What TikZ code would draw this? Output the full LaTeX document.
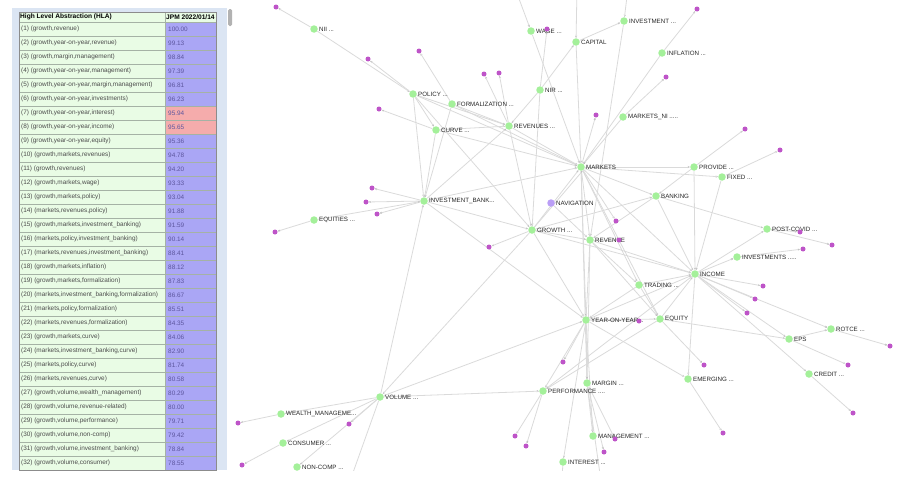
\documentclass[tikz,border=0pt]{standalone}
\usepackage{fontspec}
\usepackage{xcolor}
\usepackage{tikz}
\usetikzlibrary{arrows.meta,backgrounds}
\newfontfamily\arialfont{Liberation Sans}
\definecolor{panelblue}{RGB}{219,229,243}
\definecolor{cellgreen}{RGB}{233,252,229}
\definecolor{valblue}{RGB}{170,166,245}
\definecolor{valpink}{RGB}{245,172,172}
\definecolor{valtext}{RGB}{92,86,158}
\definecolor{gridgray}{RGB}{165,178,165}
\definecolor{hubgreen}{RGB}{164,240,154}
\definecolor{leafpurple}{RGB}{190,84,200}
\definecolor{navpurple}{RGB}{186,158,246}
\definecolor{linkgray}{RGB}{218,218,218}
\tikzset{
  hub/.style={circle,fill=hubgreen,inner sep=0pt,minimum size=7.5pt},
  leaf/.style={circle,fill=leafpurple,inner sep=0pt,minimum size=5pt},
  tag/.style={font=\arialfont\fontsize{6.2}{7}\selectfont,text=black!85,inner sep=1pt},
  link/.style={draw=linkgray,line width=0.8pt,-{Stealth[length=2.6pt,width=2.2pt]}},
  grid/.style={draw=gridgray,line width=0.5pt},
  cell/.style={anchor=west,inner sep=0pt,font=\arialfont\fontsize{6.4}{7}\selectfont,text=black!70},
  val/.style={cell,text=valtext},
  head/.style={anchor=west,inner sep=0pt,font=\arialfont\bfseries\fontsize{6.6}{7}\selectfont}
}

\begin{document}
\begin{tikzpicture}[x=1pt,y=-1pt]
  \useasboundingbox (0,0) rectangle (904,482);
  % table panel
  \fill[panelblue] (12,8) rectangle (227,470);
  \fill[black!30,rounded corners=1.5pt] (228,9) rectangle (232,26);
  \draw[grid,fill=cellgreen] (19,12) rectangle (165,22);
  \draw[grid,fill=cellgreen] (165,12) rectangle (216,22);
  \node[head] (hla) at (20,17) {High Level Abstraction (HLA)};
  \node[head] (jpm) at (166,17) {JPM 2022/01/14};
  \foreach \n/\t/\v/\c in {
    1/{(growth,revenue)}/100.00/valblue,
    2/{(growth,year-on-year,revenue)}/99.13/valblue,
    3/{(growth,margin,management)}/98.84/valblue,
    4/{(growth,year-on-year,management)}/97.39/valblue,
    5/{(growth,year-on-year,margin,management)}/96.81/valblue,
    6/{(growth,year-on-year,investments)}/96.23/valblue,
    7/{(growth,year-on-year,interest)}/95.94/valpink,
    8/{(growth,year-on-year,income)}/95.65/valpink,
    9/{(growth,year-on-year,equity)}/95.36/valblue,
    10/{(growth,markets,revenues)}/94.78/valblue,
    11/{(growth,revenues)}/94.20/valblue,
    12/{(growth,markets,wage)}/93.33/valblue,
    13/{(growth,markets,policy)}/93.04/valblue,
    14/{(markets,revenues,policy)}/91.88/valblue,
    15/{(growth,markets,investment\_banking)}/91.59/valblue,
    16/{(markets,policy,investment\_banking)}/90.14/valblue,
    17/{(markets,revenues,investment\_banking)}/88.41/valblue,
    18/{(growth,markets,inflation)}/88.12/valblue,
    19/{(growth,markets,formalization)}/87.83/valblue,
    20/{(markets,investment\_banking,formalization)}/86.67/valblue,
    21/{(markets,policy,formalization)}/85.51/valblue,
    22/{(markets,revenues,formalization)}/84.35/valblue,
    23/{(growth,markets,curve)}/84.06/valblue,
    24/{(markets,investment\_banking,curve)}/82.90/valblue,
    25/{(markets,policy,curve)}/81.74/valblue,
    26/{(markets,revenues,curve)}/80.58/valblue,
    27/{(growth,volume,wealth\_management)}/80.29/valblue,
    28/{(growth,volume,revenue-related)}/80.00/valblue,
    29/{(growth,volume,performance)}/79.71/valblue,
    30/{(growth,volume,non-comp)}/79.42/valblue,
    31/{(growth,volume,investment\_banking)}/78.84/valblue,
    32/{(growth,volume,consumer)}/78.55/valblue}{
    \pgfmathsetmacro\rowy{22+(\n-1)*14}
    \draw[grid,fill=cellgreen] (19,\rowy) rectangle (165,\rowy+14);
    \draw[grid,fill=\c] (165,\rowy) rectangle (216,\rowy+14);
    \node[cell] (r\n) at (21,\rowy+7) {(\n) \t};
    \node[val] (v\n) at (168,\rowy+7) {\v};
  }
  \draw[black!45,line width=0.6pt] (19,12) rectangle (216,470);

  % keyword nodes
  \node[hub,label={[tag]right:NII ...}] (nii) at (314,29) {};
  \node[hub,label={[tag]right:WAGE ...}] (wage) at (531,31) {};
  \node[hub,label={[tag]right:CAPITAL}] (cap) at (576,42) {};
  \node[hub,label={[tag]right:INVESTMENT ...}] (inv) at (624,21) {};
  \node[hub,label={[tag]right:INFLATION ...}] (infl) at (662,53) {};
  \node[hub,label={[tag]right:NIR ...}] (nir) at (540,90) {};
  \node[hub,label={[tag]right:MARKETS\_NI .....}] (mkni) at (623,117) {};
  \node[hub,label={[tag]right:REVENUES ...}] (revs) at (509,126) {};
  \node[hub,label={[tag]right:POLICY ...}] (pol) at (413,94) {};
  \node[hub,label={[tag]right:FORMALIZATION ...}] (form) at (452,104) {};
  \node[hub,label={[tag]right:CURVE ...}] (curve) at (436,130) {};
  \node[hub,label={[tag]right:INVESTMENT\_BANK...}] (ib) at (424,201) {};
  \node[hub,label={[tag]right:EQUITIES ...}] (eqs) at (314,220) {};
  \node[hub,fill=navpurple,label={[tag]right:NAVIGATION}] (nav) at (551,203) {};
  \node[hub,label={[tag]right:GROWTH ...}] (grow) at (532,230) {};
  \node[hub,label={[tag]right:MARKETS}] (mkt) at (581,167) {};
  \node[hub,label={[tag]right:PROVIDE ...}] (prov) at (694,167) {};
  \node[hub,label={[tag]right:FIXED ...}] (fix) at (722,177) {};
  \node[hub,label={[tag]right:BANKING}] (bank) at (656,196) {};
  \node[hub,label={[tag]right:REVENUE}] (rev) at (590,240) {};
  \node[hub,label={[tag]right:POST-COVID ...}] (covid) at (767,229) {};
  \node[hub,label={[tag]right:INVESTMENTS .....}] (invs) at (737,257) {};
  \node[hub,label={[tag]right:INCOME}] (inc) at (695,274) {};
  \node[hub,label={[tag]right:TRADING ...}] (trad) at (639,285) {};
  \node[hub,label={[tag]right:YEAR-ON-YEAR...}] (yoy) at (586,320) {};
  \node[hub,label={[tag]right:EQUITY}] (eq) at (660,319) {};
  \node[hub,label={[tag]right:ROTCE ...}] (rotce) at (831,329) {};
  \node[hub,label={[tag]right:EPS}] (eps) at (789,339) {};
  \node[hub,label={[tag]right:CREDIT ...}] (cred) at (809,374) {};
  \node[hub,label={[tag]right:EMERGING ...}] (emer) at (688,379) {};
  \node[hub,label={[tag]right:MARGIN ...}] (marg) at (587,383) {};
  \node[hub,label={[tag]right:PERFORMANCE ....}] (perf) at (543,391) {};
  \node[hub,label={[tag]right:MANAGEMENT ...}] (mgmt) at (593,436) {};
  \node[hub,label={[tag]right:INTEREST ...}] (intr) at (563,462) {};
  \node[hub,label={[tag]right:VOLUME ...}] (vol) at (380,397) {};
  \node[hub,label={[tag]right:WEALTH\_MANAGEME...}] (wealth) at (281,414) {};
  \node[hub,label={[tag]right:CONSUMER ...}] (cons) at (283,443) {};
  \node[hub,label={[tag]right:NON-COMP ...}] (ncomp) at (297,467) {};

  % leaf dots
  \node[leaf] (p1) at (276,7) {};
  \node[leaf] (p2) at (368,59) {};
  \node[leaf] (p3) at (419,51) {};
  \node[leaf] (p4) at (484,74) {};
  \node[leaf] (p5) at (499,73) {};
  \node[leaf] (p6) at (379,109) {};
  \node[leaf] (p7) at (372,188) {};
  \node[leaf] (p8) at (366,202) {};
  \node[leaf] (p9) at (377,214) {};
  \node[leaf] (p10) at (275,232) {};
  \node[leaf] (p11) at (547,29) {};
  \node[leaf] (p12) at (697,9) {};
  \node[leaf] (p13) at (666,77) {};
  \node[leaf] (p14) at (596,115) {};
  \node[leaf] (p15) at (745,129) {};
  \node[leaf] (p16) at (780,150) {};
  \node[leaf] (p17) at (616,221) {};
  \node[leaf] (p18) at (489,247) {};
  \node[leaf] (p19) at (619,240) {};
  \node[leaf] (p20) at (639,321) {};
  \node[leaf] (p21) at (803,249) {};
  \node[leaf] (p22) at (832,245) {};
  \node[leaf] (p23) at (800,232) {};
  \node[leaf] (p24) at (763,286) {};
  \node[leaf] (p25) at (755,299) {};
  \node[leaf] (p26) at (747,313) {};
  \node[leaf] (p27) at (890,346) {};
  \node[leaf] (p28) at (848,365) {};
  \node[leaf] (p29) at (853,413) {};
  \node[leaf] (p30) at (704,365) {};
  \node[leaf] (p31) at (723,433) {};
  \node[leaf] (p32) at (615,439) {};
  \node[leaf] (p33) at (604,452) {};
  \node[leaf] (p34) at (563,362) {};
  \node[leaf] (p35) at (515,436) {};
  \node[leaf] (p36) at (526,446) {};
  \node[leaf] (p37) at (238,423) {};
  \node[leaf] (p38) at (349,424) {};
  \node[leaf] (p39) at (242,465) {};
  \coordinate (top1) at (515,-12);
  \coordinate (top2) at (577,-12);
  \coordinate (top3) at (628,-12);
  \coordinate (bot1) at (345,495);
  \coordinate (bot2) at (603,495);
  \coordinate (bot3) at (561,495);

  % links
  \begin{pgfonlayer}{background}
  \begin{scope}
    \clip (233,0) rectangle (904,470);
    \path[link] (top1) edge (wage) (top2) edge (cap) (top3) edge (inv);
    \path[link] (nii) edge (p1) edge (pol);
    \path[link] (pol) edge (p2) edge (curve) edge (ib) edge (revs) edge (mkt) edge (grow);
    \path[link] (form) edge (p3) edge (ib) edge (mkt) edge (revs);
    \path[link] (curve) edge (p6) edge (ib) edge (revs) edge (mkt);
    \path[link] (revs) edge (p4) edge (p5) edge (mkt) edge (grow);
    \path[link] (ib) edge (p7) edge (p8) edge (p9) edge (revs) edge (mkt) edge (grow) edge (yoy);
    \path[link] (eqs) edge (ib) edge (p10);
    \path[link] (nir) edge (p11) edge (cap) edge (revs) edge (grow);
    \path[link] (wage) edge (mkt);
    \path[link] (cap) edge (mkt) edge (inv);
    \path[link] (inv) edge (rev);
    \path[link] (infl) edge (p12) edge (mkt);
    \path[link] (mkni) edge (p13) edge (mkt);
    \path[link] (mkt) edge (p14) edge (p17) edge (prov) edge (fix) edge (bank) edge (rev) edge (yoy)
      edge (inc) edge (trad) edge (eq) edge (marg);
    \path[link] (grow) edge (mkt) edge ([xshift=1.5pt]mkt.south) edge (p18) edge (rev) edge (bank)
      edge (yoy) edge (vol) edge (inc);
    \path[link] (prov) edge (p15) edge (bank) edge (inc);
    \path[link] (fix) edge (p16) edge (inc);
    \path[link] (bank) edge (rev) edge (inc) edge (covid);
    \path[link] (nav) edge (rev);
    \path[link] (rev) edge (p19) edge (inc) edge (yoy) edge (eq) edge (trad) edge (marg);
    \path[link] (trad) edge (inc) edge (eq) edge (yoy);
    \path[link] (yoy) edge (p20) edge (eq) edge (inc) edge (marg) edge (mgmt) edge (perf) edge (p34)
      edge (emer) edge (intr);
    \path[link] (eq) edge (p30) edge (inc) edge (eps) edge (perf);
    \path[link] (inc) edge (invs) edge (covid) edge (p24) edge (p25) edge (p26) edge (eps) edge (cred)
      edge (rotce) edge (emer) edge (perf);
    \path[link] (invs) edge (p21);
    \path[link] (covid) edge (p22) edge (p23);
    \path[link] (eps) edge (rotce) edge (p28);
    \path[link] (rotce) edge (p27);
    \path[link] (cred) edge (p29);
    \path[link] (emer) edge (p31);
    \path[link] (marg) edge (mgmt) edge (p32) edge (p33) edge (bot2);
    \path[link] (perf) edge (p35) edge (p36);
    \path[link] (intr) edge (bot3);
    \path[link] (vol) edge (ib) edge (yoy) edge (perf) edge (wealth) edge (cons) edge (ncomp) edge (p38)
      edge (bot1);
    \path[link] (wealth) edge (p37);
    \path[link] (cons) edge (p39);
  \end{scope}
  \end{pgfonlayer}
\end{tikzpicture}
\end{document}
